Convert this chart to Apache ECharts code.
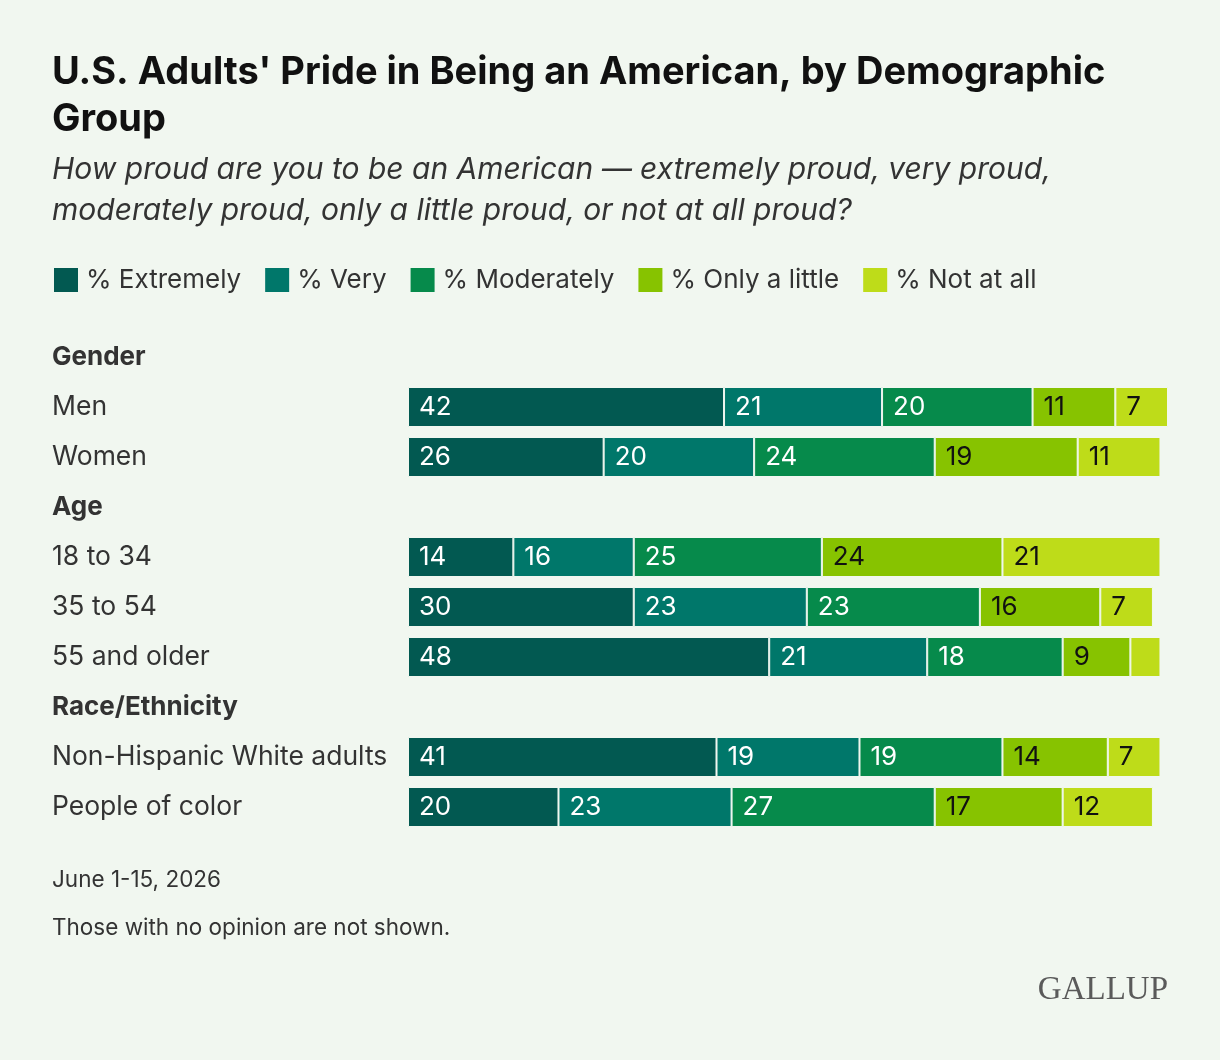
<!DOCTYPE html>
<html>
<head>
<meta charset="utf-8">
<script src="https://cdn.jsdelivr.net/npm/echarts@6/dist/echarts.min.js"></script>
<style>
    html, body { margin: 0; padding: 0; background: #F1F7F0; }
    #chart { width: 1220px; height: 1060px; }
</style>
</head>
<body>
<div id="chart"></div>
<script>
// rows, top to bottom; headers have no bars
var categories = ["Gender", "Men", "Women", "Age", "18 to 34", "35 to 54", "55 and older",
    "Race/Ethnicity", "Non-Hispanic White adults", "People of color"];
var headers = ["Gender", "Age", "Race/Ethnicity"];

var seriesNames = ["% Extremely", "% Very", "% Moderately", "% Only a little", "% Not at all"];
var colors = ["#025951", "#00776A", "#068A4B", "#87C300", "#BEDC19"];
var labelColors = ["#ffffff", "#ffffff", "#ffffff", "#111111", "#111111"];

var extremely = [null, 42, 26, null, 14, 30, 48, null, 41, 20];
var very = [null, 21, 20, null, 16, 23, 21, null, 19, 23];
var moderately = [null, 20, 24, null, 25, 23, 18, null, 19, 27];
var onlyLittle = [null, 11, 19, null, 24, 16, 9, null, 14, 17];
var notAtAll = [null, 7, 11, null, 21, 7, 4, null, 7, 12];

var allValues = [extremely, very, moderately, onlyLittle, notAtAll];
var font = "Inter, 'Noto Sans', sans-serif";

var series = [];
for (var i = 0; i < seriesNames.length; i++) {
    series.push({
        name: seriesNames[i],
        type: "bar",
        stack: "total",
        barWidth: 40,
        data: allValues[i],
        itemStyle: {
            color: colors[i],
            borderColor: "#F1F7F0",
            borderWidth: 1
        },
        label: {
            show: true,
            position: "insideLeft",
            distance: 11,
            color: labelColors[i],
            fontSize: 26,
            fontFamily: font,
            formatter: function (p) {
                // the thin 4% slice has no label
                return p.value >= 5 ? p.value : "";
            }
        }
    });
}

var myChart = echarts.init(document.getElementById("chart"));
myChart.setOption({
    backgroundColor: "#F1F7F0",
    animation: false,
    title: [
        {
            text: "U.S. Adults' Pride in Being an American, by Demographic\nGroup",
            left: 47,
            top: 44,
            textStyle: {
                fontSize: 38,
                fontWeight: "bold",
                fontFamily: font,
                color: "#111111",
                lineHeight: 47
            }
        },
        {
            text: "How proud are you to be an American \u2014 extremely proud, very proud,\nmoderately proud, only a little proud, or not at all proud?",
            left: 47,
            top: 144,
            textStyle: {
                fontSize: 30,
                fontStyle: "italic",
                fontWeight: "normal",
                fontFamily: font,
                color: "#333333",
                lineHeight: 41
            }
        }
    ],
    legend: {
        left: 52,
        top: 266,
        padding: 0,
        icon: "rect",
        itemWidth: 26,
        itemHeight: 26,
        itemGap: 22,
        textStyle: {
            fontSize: 26,
            fontFamily: font,
            color: "#333333",
            padding: [0, 0, 0, 2]
        },
        data: seriesNames
    },
    grid: {
        left: 408,
        top: 332,
        width: 760,
        height: 500,
        containLabel: false
    },
    xAxis: {
        type: "value",
        min: 0,
        max: 101,
        show: false
    },
    yAxis: {
        type: "category",
        inverse: true,
        data: categories,
        axisLine: { show: false },
        axisTick: { show: false },
        splitLine: { show: false },
        axisLabel: {
            margin: 356,
            align: "left",
            formatter: function (v) {
                if (headers.indexOf(v) >= 0) return "{h|" + v + "}";
                return "{r|" + v + "}";
            },
            rich: {
                h: { fontSize: 26, fontWeight: "bold", fontFamily: font, color: "#333333" },
                r: { fontSize: 26.5, fontFamily: font, color: "#333333" }
            }
        }
    },
    series: series,
    graphic: [
        {
            type: "text",
            left: 52,
            top: 869,
            style: { text: "June 1-15, 2026", fontSize: 22.5, fontFamily: font, fill: "#333333" }
        },
        {
            type: "text",
            left: 52,
            top: 917,
            style: { text: "Those with no opinion are not shown.", fontSize: 22.5, fontFamily: font, fill: "#333333" }
        },
        {
            type: "text",
            right: 52,
            top: 974,
            style: { text: "GALLUP", fontSize: 33, fontFamily: "'Liberation Serif', 'DejaVu Serif', serif", fill: "#5a5a5a" }
        }
    ]
});
</script>
</body>
</html>
